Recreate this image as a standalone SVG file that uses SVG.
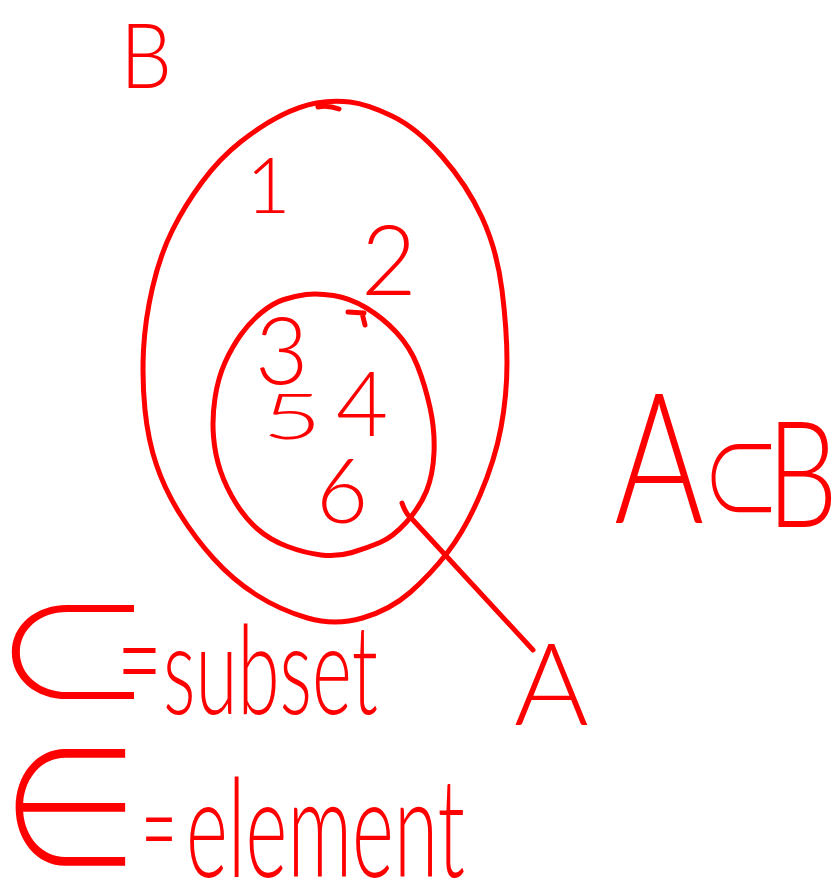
<svg xmlns="http://www.w3.org/2000/svg" width="839" height="893" viewBox="0 0 839 893">
<style>
.ink{fill:none;stroke:#ff0000;stroke-width:5;stroke-linecap:round;stroke-linejoin:round}
.t{fill:#ff0000;font-family:Lato,"Liberation Sans",Arial,sans-serif;font-weight:300}
.m{font-family:"Noto Sans CJK JP","DejaVu Sans",sans-serif;font-weight:300}
</style>
<rect width="839" height="893" fill="#ffffff"/>
<g id="setB">
<path class="ink" d="M350,102 Q367,104 392,116 Q417,128 442,156.5 Q467,185 482,217.5 Q497,250 502,290 Q507,330 507,362.5 Q507,395 501,427.5 Q495,460 480,495 Q465,530 447.5,552.5 Q430,575 410,592.5 Q390,610 362.5,618 Q335,626 307.5,618 Q280,610 256.5,595 Q233,580 214,559 Q195,538 180,514 Q165,490 156.5,465 Q148,440 145,410 Q142,380 143.5,350 Q145,320 152.5,287.5 Q160,255 172.5,230 Q185,205 202.5,181.5 Q220,158 241,141.5 Q262,125 281,115.5 Q300,106 316.5,103 Q333,100 350,102 Z"/>
<path class="ink" d="M318,107 Q328,105 339,109"/>
<text class="t" x="120" y="88" font-size="90" textLength="52" lengthAdjust="spacingAndGlyphs">B</text>
<text class="t" x="246" y="213" font-size="77">1</text>
<text class="t" x="361" y="295" font-size="96">2</text>
</g>
<g id="setA">
<path class="ink" d="M333.5,295.5 Q350,298 366.5,308 Q383,318 396.5,332.5 Q410,347 417.5,366 Q425,385 430,407.5 Q435,430 434,452.5 Q433,475 426.5,491 Q420,507 406.5,522 Q393,537 380,542.5 Q367,548 352,552.5 Q337,557 321,555 Q305,553 287.5,546.5 Q270,540 257.5,529 Q245,518 235.5,502.5 Q226,487 220.5,471 Q215,455 213.5,436.5 Q212,418 215,398 Q218,378 225,362.5 Q232,347 241,334.5 Q250,322 261.5,312.5 Q273,303 284,299.5 Q295,296 306,294.5 Q317,293 333.5,295.5 Z"/>
<path class="ink" d="M348,312 L364,313 M362,313 L365,325"/>
<text class="t" x="255" y="384" font-size="92">3</text>
<text class="t" x="336" y="436" font-size="90">4</text>
<text class="t" x="262" y="439" font-size="64" textLength="60" lengthAdjust="spacingAndGlyphs">5</text>
<text class="t" x="316" y="523" font-size="90">6</text>
</g>
<g id="labelA">
<text class="t" x="514" y="725" font-size="114">A</text>
</g>
<g id="relation">
<text class="t" transform="scale(0.76,1)" x="808" y="523" font-size="181">A<tspan class="m" x="923" y="517" font-size="105">⊂</tspan><tspan x="1009" y="527" font-size="148">B</tspan></text>
</g>
<g id="legend-subset">
<text class="t" y="707"><tspan class="m" x="-9" font-size="145" textLength="164" lengthAdjust="spacingAndGlyphs">⊂</tspan><tspan x="117" y="706" font-size="135" textLength="45" lengthAdjust="spacingAndGlyphs">=</tspan><tspan x="163" y="714" font-size="125" textLength="215" lengthAdjust="spacingAndGlyphs">subset</tspan></text>
</g>
<g id="legend-element">
<text class="t" y="874"><tspan class="m" x="-3" font-size="180" textLength="147" lengthAdjust="spacingAndGlyphs">∈</tspan><tspan x="141" y="870" font-size="120" textLength="36" lengthAdjust="spacingAndGlyphs">=</tspan><tspan x="186" y="877" font-size="138" textLength="279" lengthAdjust="spacingAndGlyphs">element</tspan></text>
</g>
<g id="connectors">
<path class="ink" d="M402,503 Q406,515 413,520 L533,650"/>
</g>
</svg>
